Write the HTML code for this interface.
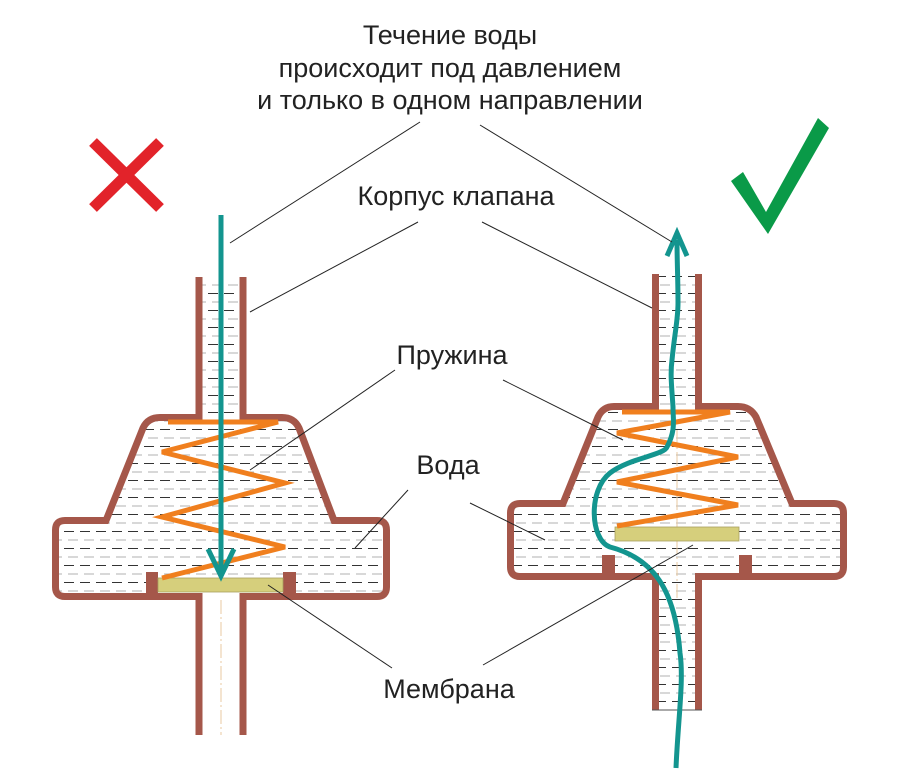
<!DOCTYPE html>
<html><head><meta charset="utf-8"><style>
html,body{margin:0;padding:0;background:#fff;}
svg{display:block;}
text{font-family:"Liberation Sans",Arial,sans-serif;fill:#222;font-size:27px;}
</style></head><body>
<svg width="898" height="776" viewBox="0 0 898 776" xmlns="http://www.w3.org/2000/svg">
<defs>
<pattern id="w" width="16" height="17" patternUnits="userSpaceOnUse">
<rect x="0" y="4" width="10" height="1" fill="#333"/>
<rect x="4" y="12.5" width="10" height="1" fill="#b0b0b0"/>
</pattern>
</defs>

<text x="450" y="44" text-anchor="middle">Течение воды</text>
<text x="450" y="77" text-anchor="middle">происходит под давлением</text>
<text x="450" y="109" text-anchor="middle">и только в одном направлении</text>
<text x="456" y="205" text-anchor="middle">Корпус клапана</text>
<text x="452" y="364" text-anchor="middle">Пружина</text>
<text x="448" y="474" text-anchor="middle">Вода</text>
<text x="449" y="698" text-anchor="middle">Мембрана</text>

<g stroke="#e2232a" stroke-width="11">
<line x1="93" y1="142" x2="160" y2="208"/>
<line x1="160" y1="142" x2="93" y2="208"/>
</g>
<polygon points="731,181 743,172 766,212 818,118 829,128 768,234" fill="#0a9a48"/>

<!-- LEFT VALVE -->
<path d="M199,277 V417.5 H160 Q148,417.5 143,428 L106,520.5 H65 Q55.5,520.5 55.5,530 V587 Q55.5,596.5 65,596.5 H199 V596.5 H243 H377 Q386.5,596.5 386.5,587 V530 Q386.5,520.5 377,520.5 H334 L299,428 Q294,417.5 282,417.5 H243 V277 Z" fill="url(#w)" stroke="none"/>
<line x1="221" y1="600" x2="221" y2="735" stroke="#e8c9a0" stroke-width="1" stroke-dasharray="14,3,2,3"/>
<path d="M199,277 V417.5 H160 Q148,417.5 143,428 L106,520.5 H65 Q55.5,520.5 55.5,530 V587 Q55.5,596.5 65,596.5 H199 V735 M243,735 V596.5 H377 Q386.5,596.5 386.5,587 V530 Q386.5,520.5 377,520.5 H334 L299,428 Q294,417.5 282,417.5 H243 V277" fill="none" stroke="#a5574a" stroke-width="7"/>
<rect x="146" y="572" width="12" height="26" fill="#a5574a"/>
<rect x="283" y="572" width="13" height="26" fill="#a5574a"/>
<rect x="158" y="578" width="125" height="14" fill="#d6cf7c" stroke="#a8a060" stroke-width="0.8"/>
<polyline points="168,422 278,422 162,452 285,483 162,517 285,547 162,578" fill="none" stroke="#f07f1e" stroke-width="5"/>
<line x1="221" y1="215" x2="221" y2="574" stroke="#13958f" stroke-width="5"/>
<polyline points="208,549 221,576 234,549" fill="none" stroke="#13958f" stroke-width="5"/>

<!-- RIGHT VALVE -->
<path d="M655.5,274 V406.5 H614 Q603,406.5 598,417 L563,503.5 H520 Q510.5,503.5 510.5,513 V567 Q510.5,576.5 520,576.5 H655.5 V710 H698.5 V576.5 H834 Q843.5,576.5 843.5,567 V513 Q843.5,503.5 834,503.5 H792 L756,417 Q750,406.5 738,406.5 H698.5 V274 Z" fill="url(#w)" stroke="none"/>
<line x1="677" y1="430" x2="677" y2="600" stroke="#e8c9a0" stroke-width="1" stroke-dasharray="14,3,2,3"/>
<path d="M655.5,274 V406.5 H614 Q603,406.5 598,417 L563,503.5 H520 Q510.5,503.5 510.5,513 V567 Q510.5,576.5 520,576.5 H655.5 V710 M698.5,710 V576.5 H834 Q843.5,576.5 843.5,567 V513 Q843.5,503.5 834,503.5 H792 L756,417 Q750,406.5 738,406.5 H698.5 V274" fill="none" stroke="#a5574a" stroke-width="7"/>
<line x1="652" y1="710" x2="702" y2="710" stroke="#555" stroke-width="1"/>
<rect x="602" y="555" width="13" height="22" fill="#a5574a"/>
<rect x="739" y="555" width="13" height="22" fill="#a5574a"/>
<rect x="615" y="527" width="124" height="14" fill="#d6cf7c" stroke="#a8a060" stroke-width="0.8"/>
<polyline points="622,412 730,412 617,433 738,457 617,482 738,505 617,526" fill="none" stroke="#f07f1e" stroke-width="5"/>
<path d="M676,768 C678,720 684,680 680,653 C676,600 660,560 610,547 C590,540 588,490 610,473 C630,458 664,455 667,447 C676,430 673,420 673,407 C672,390 670,375 672,360 C675,330 678,320 678,303 C678,280 677,260 677,240" fill="none" stroke="#13958f" stroke-width="5"/>
<polyline points="667,256 677,233 687,256" fill="none" stroke="#13958f" stroke-width="5"/>

<g stroke="#222" stroke-width="1">
<line x1="420" y1="122" x2="230" y2="243"/>
<line x1="480" y1="125" x2="672" y2="242"/>
<line x1="418" y1="222" x2="250" y2="312"/>
<line x1="482" y1="222" x2="652" y2="308"/>
<line x1="395" y1="370" x2="250" y2="470"/>
<line x1="503" y1="380" x2="623" y2="440"/>
<line x1="408" y1="490" x2="355" y2="548"/>
<line x1="470" y1="503" x2="545" y2="540"/>
<line x1="392" y1="668" x2="268" y2="585"/>
<line x1="483" y1="665" x2="693" y2="545"/>
</g>
</svg>
</body></html>
